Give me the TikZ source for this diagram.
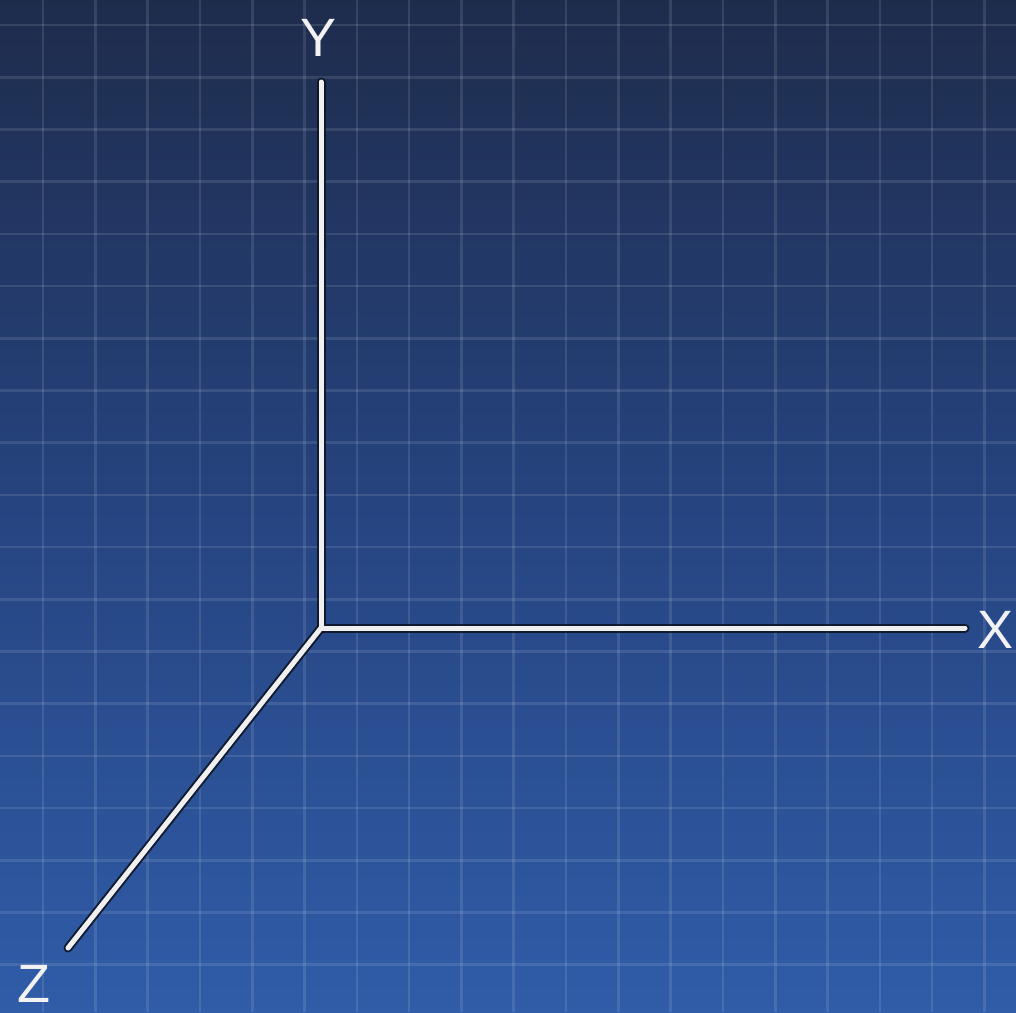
\documentclass[tikz,border=0pt]{standalone}
\usepackage{fontspec}
\setmainfont{Liberation Sans}
\definecolor{bgtop}{RGB}{30,44,76}
\definecolor{bgmid}{RGB}{38,68,128}
\definecolor{bgbot}{RGB}{48,92,168}
\definecolor{axisdark}{RGB}{12,18,32}
\tikzset{
  gridline/.style={line width=2.6pt, white, opacity=0.11},
  axisshadow/.style={line width=9pt, axisdark, line cap=round, line join=round, opacity=0.85},
  axisline/.style={line width=5pt, white!94!black, line cap=round, line join=round},
  axislabel/.style={font=\fontsize{54}{58}\selectfont, text=white!95!black, inner sep=0pt},
}
\begin{document}
\begin{tikzpicture}[x=1pt,y=-1pt]
  \useasboundingbox (0,0) rectangle (1016,1012);
  \shade[top color=bgtop, bottom color=bgbot, middle color=bgmid] (0,0) rectangle (1016,1012);
  \foreach \i in {0,...,18} {
    \draw[gridline] ({43+52.3*\i},0) -- ({43+52.3*\i},1012);
    \draw[gridline] (0,{25+52.2*\i}) -- (1016,{25+52.2*\i});
  }
  \coordinate (O) at (321,628);
  \coordinate (xend) at (965,628);
  \coordinate (yend) at (321,82);
  \coordinate (zend) at (68,948);
  \draw[axisshadow] (yend) -- (O) -- (xend);
  \draw[axisshadow] (O) -- (zend);
  \draw[axisline] (yend) -- (O) -- (xend);
  \draw[axisline] (O) -- (zend);
  \node[axislabel] (ylab) at (319,38) {Y};
  \node[axislabel] (xlab) at (995,630) {X};
  \node[axislabel] (zlab) at (34,984) {Z};
\end{tikzpicture}
\end{document}
